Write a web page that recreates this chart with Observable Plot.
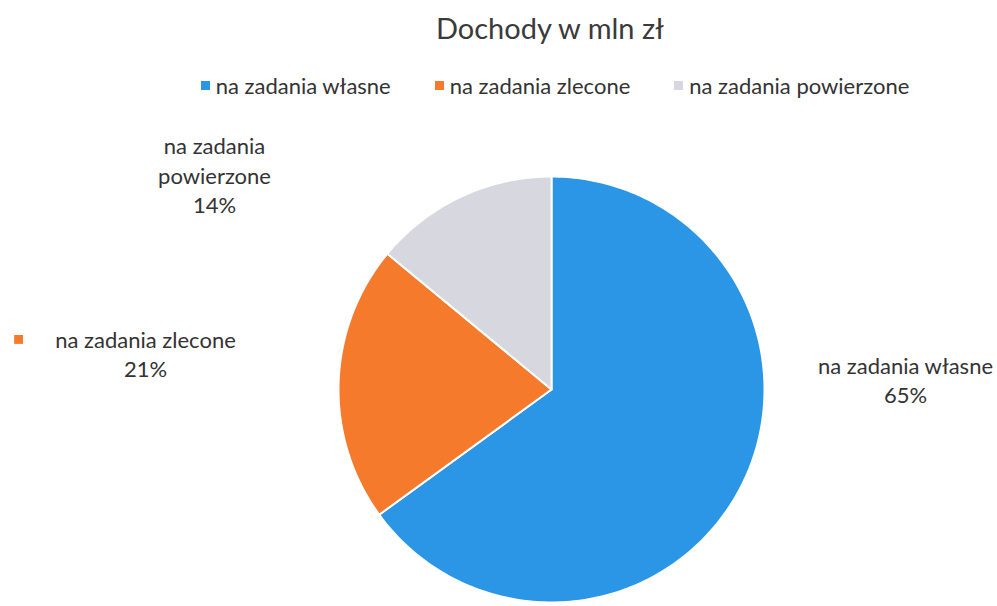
<!DOCTYPE html>
<html>
<head>
<meta charset="utf-8">
<script src="https://cdn.jsdelivr.net/npm/d3@7"></script>
<script src="https://cdn.jsdelivr.net/npm/@observablehq/plot@0.6"></script>
<style>
  html, body { margin: 0; padding: 0; background: #fff; }
  body { width: 997px; height: 606px; overflow: hidden; font-family: Lato, "Noto Sans", sans-serif; color: #333; }
  #header { position: relative; height: 110px; }
  #title { position: absolute; top: 10px; left: 0; width: 1100px; text-align: center; font-size: 29px; color: #3a3a3a; }
  #legend { position: absolute; top: 72px; left: 0; width: 1110px; display: flex; justify-content: center; gap: 44px; font-size: 22px; color: #333; }
  #legend .item { display: flex; align-items: center; gap: 6px; }
  #legend .sw { width: 9px; height: 9px; display: inline-block; }
</style>
</head>
<body>
<div id="header">
  <div id="title"></div>
  <div id="legend"></div>
</div>
<div id="chart"></div>
<script>
const title = "Dochody w mln zł";
const categories = ["na zadania własne", "na zadania zlecone", "na zadania powierzone"];
const shares = [65, 21, 14];
const colors = ["#2b95e6", "#f57a2b", "#d7d7df"];
const labelLines = [["na zadania własne", "65%"], ["na zadania zlecone", "21%"], ["na zadania", "powierzone", "14%"]];
// label anchor positions in pie-radius units (relative to pie centre)
const labelX = [1.662, -1.906, -1.582];
const labelY = [0.048, 0.170, 1.010];
const labelKey = [false, true, false];

document.getElementById("title").textContent = title;
const legend = document.getElementById("legend");
categories.forEach((c, i) => {
  const it = document.createElement("div");
  it.className = "item";
  it.innerHTML = `<span class="sw" style="background:${colors[i]}"></span><span>${c}</span>`;
  legend.appendChild(it);
});

// build slice polygons (clockwise from 12 o'clock)
const total = d3.sum(shares);
const poly = [];
let acc = 0;
shares.forEach((v, i) => {
  const a0 = acc / total * 2 * Math.PI;
  acc += v;
  const a1 = acc / total * 2 * Math.PI;
  const n = Math.max(2, Math.ceil((a1 - a0) / (Math.PI / 180)));
  poly.push({cat: categories[i], x: 0, y: 0});
  for (let k = 0; k <= n; k++) {
    const a = a0 + (a1 - a0) * k / n;
    poly.push({cat: categories[i], x: Math.sin(a), y: Math.cos(a)});
  }
  poly.push({cat: categories[i], x: 0, y: 0});
});

const labels = categories.map((c, i) => ({cat: c, x: labelX[i], y: labelY[i], text: labelLines[i].join("\n"), key: labelKey[i]}));

const W = 997, H = 496, cx = 551, cy = 279, R = 213;
const chart = Plot.plot({
  width: W, height: H,
  margin: 0,
  x: {domain: [-cx / R, (W - cx) / R], axis: null},
  y: {domain: [-(H - cy) / R, cy / R], axis: null},
  color: {domain: categories, range: colors},
  style: {fontFamily: "Lato, 'Noto Sans', sans-serif", background: "#fff"},
  marks: [
    Plot.line(poly, {x: "x", y: "y", z: "cat", fill: "cat", stroke: "#ffffff", strokeWidth: 2, strokeLinejoin: "round", curve: "linear"}),
    Plot.text(labels, {x: "x", y: "y", text: "text", fontSize: 22, lineHeight: 1.33, fill: "#333", lineAnchor: "middle", textAnchor: "middle"}),
    Plot.dot(labels.filter(d => d.key), {x: d => d.x - 0.596, y: d => d.y + 0.065, symbol: "square", r: 5, fill: "cat", stroke: null})
  ]
});
document.getElementById("chart").appendChild(chart);
</script>
</body>
</html>
